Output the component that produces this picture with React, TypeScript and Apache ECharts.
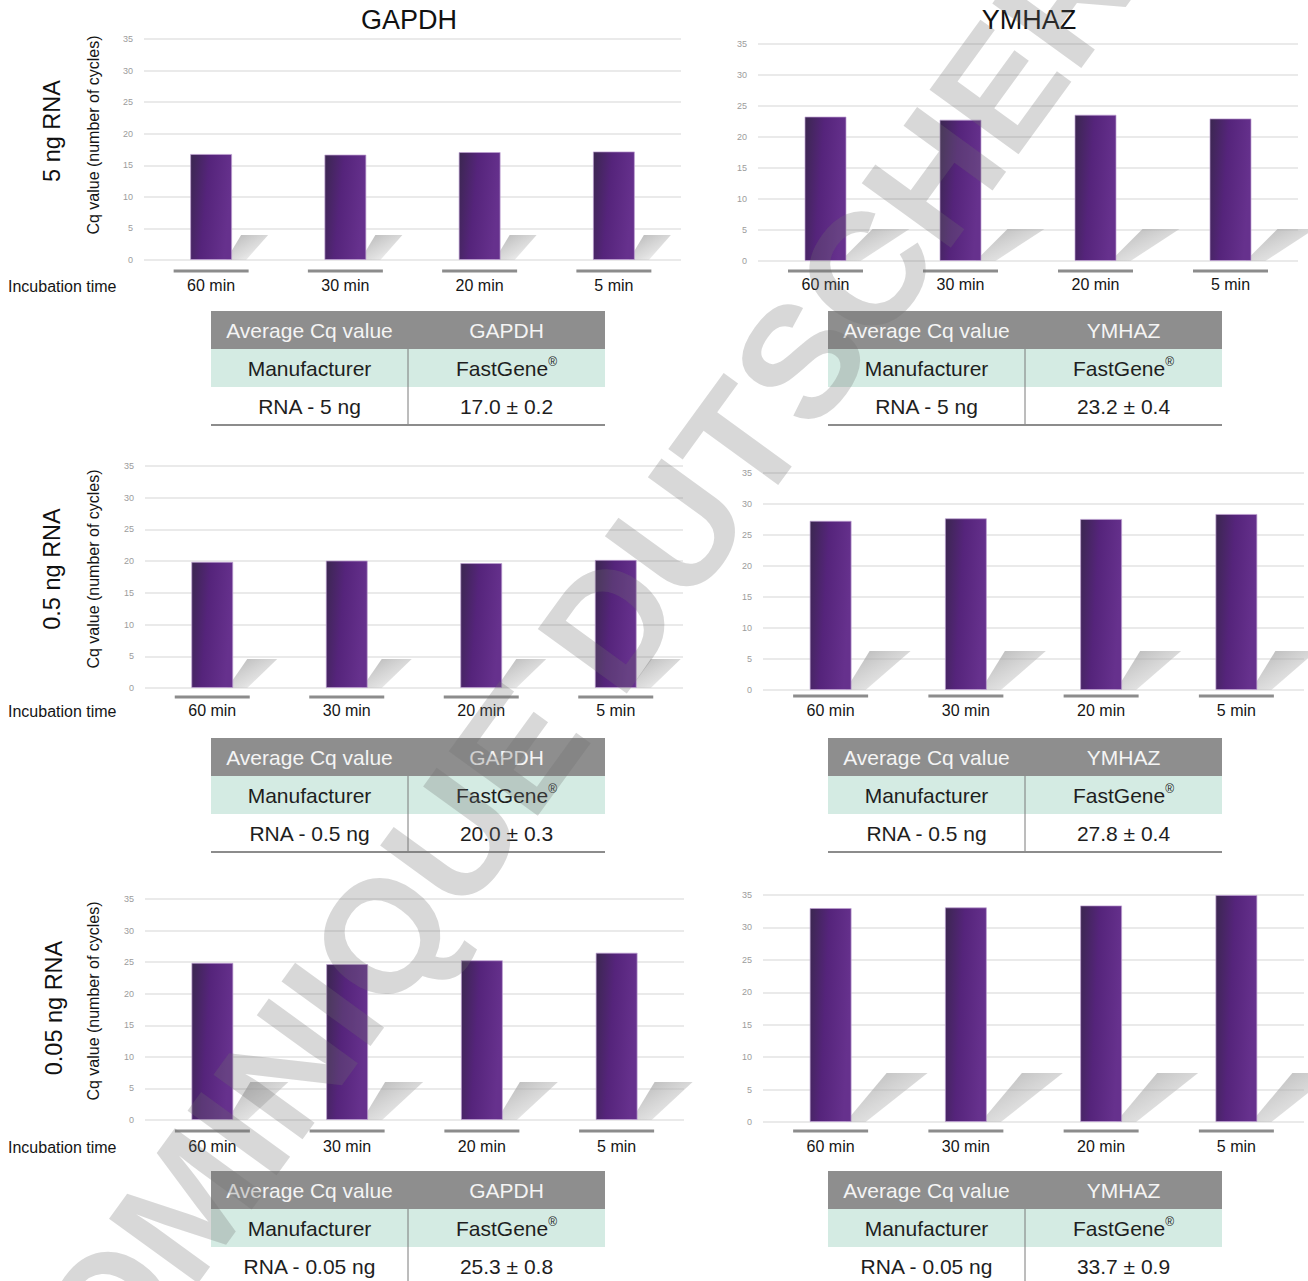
import React, { useEffect, useRef } from 'react';
import * as echarts from 'echarts';

// ---------- data ----------
const CATEGORIES = ['60 min', '30 min', '20 min', '5 min'];
const GENES = ['GAPDH', 'YMHAZ'];
const ROW_LABELS = ['5 ng RNA', '0.5 ng RNA', '0.05 ng RNA'];
const RNA_AMOUNTS = ['RNA - 5 ng', 'RNA - 0.5 ng', 'RNA - 0.05 ng'];
const GAPDH_5NG = [16.8, 16.7, 17.1, 17.2];
const YMHAZ_5NG = [23.3, 22.8, 23.6, 23.0];
const GAPDH_05NG = [19.9, 20.1, 19.7, 20.2];
const YMHAZ_05NG = [27.3, 27.7, 27.6, 28.4];
const GAPDH_005NG = [24.9, 24.7, 25.3, 26.5];
const YMHAZ_005NG = [33.0, 33.1, 33.4, 35.0];
const AVERAGES = ['17.0 ± 0.2', '23.2 ± 0.4', '20.0 ± 0.3', '27.8 ± 0.4', '25.3 ± 0.8', '33.7 ± 0.9'];
const Y_MIN = 0;
const Y_MAX = 35;
const Y_INTERVAL = 5;
const Y_TITLE = 'Cq value (number of cycles)';
const X_TITLE = 'Incubation time';
const TABLE_HEAD = 'Average Cq value';
const TABLE_ROW2 = 'Manufacturer';
const MANUFACTURER = 'FastGene';
const WATERMARK = 'DOMINIQUE DUTSCHER';

const PANEL_VALUES = [GAPDH_5NG, YMHAZ_5NG, GAPDH_05NG, YMHAZ_05NG, GAPDH_005NG, YMHAZ_005NG];

// ---------- layout (pixels) ----------
const LAYOUT = [
  { gene: 0, row: 0, left: 144, right: 681, top: 39, bottom: 260, xLabelY: 286, ulY: 271, sh: { h: 25, s: 9, w: 27 }, tx: 211, ty: 311 },
  { gene: 1, row: 0, left: 758, right: 1298, top: 44, bottom: 261, xLabelY: 285, ulY: 271, sh: { h: 32, s: 26, w: 37 }, tx: 828, ty: 311 },
  { gene: 0, row: 1, left: 145, right: 683, top: 466, bottom: 688, xLabelY: 711, ulY: 697, sh: { h: 29, s: 14, w: 30 }, tx: 211, ty: 738 },
  { gene: 1, row: 1, left: 763, right: 1304, top: 473, bottom: 690, xLabelY: 711, ulY: 696, sh: { h: 39, s: 18, w: 41 }, tx: 828, ty: 738 },
  { gene: 0, row: 2, left: 145, right: 684, top: 899, bottom: 1120, xLabelY: 1147, ulY: 1131, sh: { h: 38, s: 17, w: 38 }, tx: 211, ty: 1171 },
  { gene: 1, row: 2, left: 763, right: 1304, top: 895, bottom: 1122, xLabelY: 1147, ulY: 1131, sh: { h: 49, s: 35, w: 41 }, tx: 828, ty: 1171 },
];
const ROW_LABEL_POS = [{ x: 52, y: 131 }, { x: 52, y: 569 }, { x: 54, y: 1008 }];
const Y_TITLE_POS = [{ x: 93, y: 135 }, { x: 93, y: 569 }, { x: 93, y: 1001 }];
const TITLE_POS = [{ x: 409, y: 20 }, { x: 1029, y: 20 }];
const WM = { x: 552, y: 702, angle: 54, size: 160 };

const FONT = '"Liberation Sans", Arial, Helvetica, sans-serif';
const BAR_W = 42;
const TABLE_W = 394;
const ROW_H = 38;
const LABEL_SIZE = 16;

function barGradient() {
  return new echarts.graphic.LinearGradient(0, 0, 1, 0.25, [
    { offset: 0, color: '#3b2750' },
    { offset: 0.45, color: '#55247b' },
    { offset: 1, color: '#66318d' },
  ]);
}

function buildOption() {
  const grid: any[] = [];
  const xAxis: any[] = [];
  const yAxis: any[] = [];
  const series: any[] = [];
  const graphic: any[] = [];

  LAYOUT.forEach((l, i) => {
    grid.push({ left: l.left, top: l.top, width: l.right - l.left, height: l.bottom - l.top });
    xAxis.push({
      type: 'category',
      gridIndex: i,
      data: CATEGORIES,
      axisLine: { show: false },
      axisTick: { show: false },
      axisLabel: { interval: 0, margin: l.xLabelY - l.bottom - 9, fontSize: LABEL_SIZE, color: '#151515', fontFamily: FONT },
    });
    yAxis.push({
      type: 'value',
      gridIndex: i,
      min: Y_MIN,
      max: Y_MAX,
      interval: Y_INTERVAL,
      axisLine: { show: false },
      axisTick: { show: false },
      axisLabel: { fontSize: 9, color: '#9c9c9c', margin: 11, fontFamily: FONT },
      splitLine: { lineStyle: { color: '#e3e3e3', width: 1.5 } },
    });
    const values = PANEL_VALUES[i];
    const sh = l.sh;
    const ulOff = l.ulY - l.bottom;
    // shadow behind bars
    series.push({
      type: 'custom',
      xAxisIndex: i,
      yAxisIndex: i,
      z: 1,
      silent: true,
      data: values.map((v, k) => [k, v]),
      encode: { x: 0, y: 1 },
      renderItem: (params: any, api: any) => {
        const c = api.coord([api.value(0), 0]);
        const R = c[0] + BAR_W / 2;
        const y0 = c[1];
        return {
          type: 'polygon',
          shape: { points: [[R - 6, y0], [R + sh.s, y0 - sh.h], [R + sh.s + sh.w, y0 - sh.h], [R + 14, y0]] },
          style: {
            fill: new echarts.graphic.LinearGradient(0, 0, 1, 1, [
              { offset: 0, color: 'rgba(150,150,150,0.75)' },
              { offset: 0.6, color: 'rgba(190,190,190,0.5)' },
              { offset: 1, color: 'rgba(225,225,225,0.2)' },
            ]),
          },
        };
      },
    });
    series.push({
      type: 'bar',
      xAxisIndex: i,
      yAxisIndex: i,
      z: 3,
      barWidth: BAR_W,
      data: values,
      itemStyle: { color: barGradient(), borderColor: 'rgba(190,160,210,0.7)', borderWidth: 1 },
      silent: true,
    });
    // grey underline per category
    series.push({
      type: 'custom',
      xAxisIndex: i,
      yAxisIndex: i,
      z: 2,
      silent: true,
      data: values.map((v, k) => [k, 0]),
      encode: { x: 0, y: 1 },
      renderItem: (params: any, api: any) => {
        const c = api.coord([api.value(0), 0]);
        return {
          type: 'rect',
          shape: { x: c[0] - 37.5, y: c[1] + ulOff - 1.5, width: 75, height: 3 },
          style: { fill: '#8c8c8c' },
        };
      },
    });

    // table
    const x0 = l.tx;
    const y0 = l.ty;
    const half = TABLE_W / 2;
    graphic.push({ type: 'rect', shape: { x: x0, y: y0, width: TABLE_W, height: ROW_H }, style: { fill: '#8e8e8e' } });
    graphic.push({ type: 'rect', shape: { x: x0, y: y0 + ROW_H, width: TABLE_W, height: ROW_H }, style: { fill: '#d4ebe3' } });
    graphic.push({ type: 'line', shape: { x1: x0 + half, y1: y0 + ROW_H, x2: x0 + half, y2: y0 + 3 * ROW_H }, style: { stroke: '#7a7a7a', lineWidth: 1 } });
    graphic.push({ type: 'line', shape: { x1: x0, y1: y0 + 3 * ROW_H, x2: x0 + TABLE_W, y2: y0 + 3 * ROW_H }, style: { stroke: '#8c8c8c', lineWidth: 2 } });
    const cell = (text: string, cx: number, cy: number, fill: string) => ({
      type: 'text',
      x: cx,
      y: cy,
      style: { text, fontSize: 21, fontFamily: FONT, fill, align: 'center', verticalAlign: 'middle' },
    });
    graphic.push(cell(TABLE_HEAD, x0 + half / 2, y0 + ROW_H / 2, '#f4f4f4'));
    graphic.push(cell(GENES[l.gene], x0 + half * 1.5, y0 + ROW_H / 2, '#f4f4f4'));
    graphic.push(cell(TABLE_ROW2, x0 + half / 2, y0 + ROW_H * 1.5, '#1e1e1e'));
    graphic.push({
      type: 'text',
      x: x0 + half * 1.5,
      y: y0 + ROW_H * 1.5,
      style: {
        text: '{a|' + MANUFACTURER + '}{s|®}',
        align: 'center',
        verticalAlign: 'middle',
        rich: {
          a: { fontSize: 21, fontFamily: FONT, fill: '#1e1e1e', color: '#1e1e1e', lineHeight: 24 },
          s: { fontSize: 12, fontFamily: FONT, fill: '#1e1e1e', color: '#1e1e1e', lineHeight: 12, verticalAlign: 'top' },
        },
      },
    });
    graphic.push(cell(RNA_AMOUNTS[l.row], x0 + half / 2, y0 + ROW_H * 2.5, '#1e1e1e'));
    graphic.push(cell(AVERAGES[i], x0 + half * 1.5, y0 + ROW_H * 2.5, '#1e1e1e'));
  });

  GENES.forEach((g, k) => {
    graphic.push({
      type: 'text',
      x: TITLE_POS[k].x,
      y: TITLE_POS[k].y,
      style: { text: g, fontSize: 27, fontFamily: FONT, fill: '#111', align: 'center', verticalAlign: 'middle' },
    });
  });
  ROW_LABELS.forEach((t, r) => {
    graphic.push({
      type: 'text',
      x: ROW_LABEL_POS[r].x,
      y: ROW_LABEL_POS[r].y,
      rotation: Math.PI / 2,
      style: { text: t, fontSize: 23.5, fontFamily: FONT, fill: '#111', align: 'center', verticalAlign: 'middle' },
    });
    graphic.push({
      type: 'text',
      x: Y_TITLE_POS[r].x,
      y: Y_TITLE_POS[r].y,
      rotation: Math.PI / 2,
      style: { text: Y_TITLE, fontSize: LABEL_SIZE, fontFamily: FONT, fill: '#151515', align: 'center', verticalAlign: 'middle' },
    });
  });
  LAYOUT.filter((l) => l.gene === 0).forEach((l) => {
    graphic.push({
      type: 'text',
      x: 8,
      y: l.xLabelY,
      style: { text: X_TITLE, fontSize: LABEL_SIZE, fontFamily: FONT, fill: '#151515', align: 'left', verticalAlign: 'middle' },
    });
  });
  graphic.push({
    type: 'text',
    x: WM.x,
    y: WM.y,
    z: 100,
    rotation: (WM.angle * Math.PI) / 180,
    silent: true,
    style: {
      text: WATERMARK,
      fontSize: WM.size,
      fontWeight: 'bold',
      fontFamily: FONT,
      fill: 'rgba(110,110,110,0.27)',
      align: 'center',
      verticalAlign: 'middle',
    },
  });

  return {
    animation: false,
    backgroundColor: '#ffffff',
    grid,
    xAxis,
    yAxis,
    series,
    graphic: { elements: graphic },
  };
}

export default function App() {
  const ref = useRef<HTMLDivElement>(null);
  useEffect(() => {
    const chart = echarts.init(ref.current as HTMLDivElement, null, { renderer: 'svg' });
    chart.setOption(buildOption() as any);
    return () => chart.dispose();
  }, []);
  return <div ref={ref} style={{ position: 'absolute', left: 0, top: 0, width: 1308, height: 1281 }} />;
}
